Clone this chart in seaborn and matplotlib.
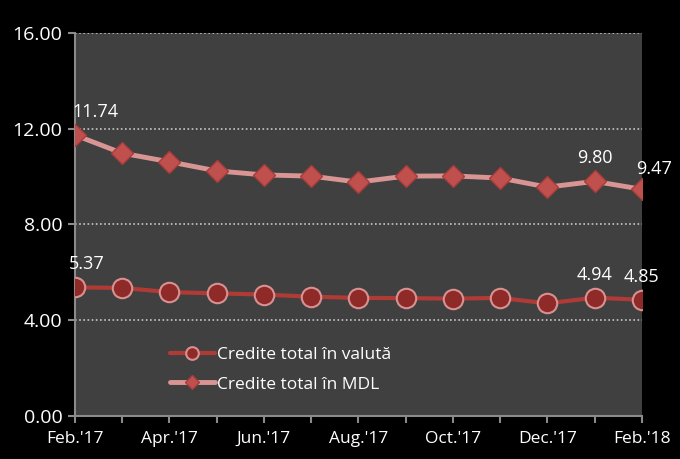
import seaborn as sns
import pandas as pd
from matplotlib import pyplot as plt

months = ["Feb.'17", "Mar.'17", "Apr.'17", "May.'17", "Jun.'17", "Jul.'17", "Aug.'17",
          "Sep.'17", "Oct.'17", "Nov.'17", "Dec.'17", "Jan.'18", "Feb.'18"]
valuta = [5.37, 5.35, 5.17, 5.12, 5.07, 4.98, 4.93, 4.92, 4.90, 4.93, 4.70, 4.94, 4.85]
mdl = [11.74, 10.98, 10.62, 10.24, 10.07, 10.02, 9.77, 10.02, 10.03, 9.94, 9.56, 9.80, 9.47]
tick_labels = ["Feb.'17", "Apr.'17", "Jun.'17", "Aug.'17", "Oct.'17", "Dec.'17", "Feb.'18"]

df = pd.DataFrame({"idx": range(len(months)), "month": months, "valuta": valuta, "mdl": mdl})

sns.set_theme(style="dark")
plt.rcParams['font.family'] = ['Open Sans', 'DejaVu Sans']

fig = plt.figure(figsize=(6.8, 4.59), dpi=100, facecolor="black")
ax = fig.add_axes([0.110, 0.094, 0.834, 0.834])
ax.set_facecolor("#404040")

sns.lineplot(data=df, x="idx", y="valuta", ax=ax, color="#b03a36", linewidth=3,
             marker="o", markersize=14, markerfacecolor="#8e2a28",
             markeredgecolor="#d99090", markeredgewidth=1.5,
             label="Credite total în valută", zorder=3)
sns.lineplot(data=df, x="idx", y="mdl", ax=ax, color="#d99594", linewidth=3.5,
             marker="D", markersize=11, markerfacecolor="#c0504d",
             markeredgecolor="#a83c3a", markeredgewidth=1,
             label="Credite total în MDL", zorder=3)

# data labels
txt = dict(color="white", fontsize=13)
ax.annotate(f"{mdl[0]:.2f}", (0, mdl[0]), xytext=(-2, 10), textcoords="offset points", ha="left", va="bottom", **txt)
ax.annotate(f"{mdl[11]:.2f}", (11, mdl[11]), xytext=(0, 10), textcoords="offset points", ha="center", va="bottom", **txt)
ax.annotate(f"{mdl[12]:.2f}", (12, mdl[12]), xytext=(-4, 8), textcoords="offset points", ha="left", va="bottom",
            annotation_clip=False, **txt)
ax.annotate(f"{valuta[0]:.2f}", (0, valuta[0]), xytext=(-4, 10), textcoords="offset points", ha="left", va="bottom", **txt)
ax.annotate(f"{valuta[11]:.2f}", (11, valuta[11]), xytext=(0, 10), textcoords="offset points", ha="center", va="bottom", **txt)
ax.annotate(f"{valuta[12]:.2f}", (12, valuta[12]), xytext=(0, 10), textcoords="offset points", ha="center", va="bottom",
            annotation_clip=False, **txt)

ax.set_xlim(0, len(months) - 1)
ax.set_ylim(0, 16)
ax.set_yticks([0, 4, 8, 12, 16])
ax.set_yticklabels([f"{v:.2f}" for v in [0, 4, 8, 12, 16]])
ax.set_xticks(range(len(months)))
ax.set_xticklabels([m if m in tick_labels else "" for m in months])
ax.set_xlabel("")
ax.set_ylabel("")

ax.grid(False)
for y in [4, 8, 12, 16]:
    ax.axhline(y, color="#c8c8c8", linestyle=(0, (1, 1.5)), linewidth=1.2, zorder=1)

for side in ["top", "right"]:
    ax.spines[side].set_visible(False)
for side in ["left", "bottom"]:
    ax.spines[side].set_color("#8a8a8a")
    ax.spines[side].set_linewidth(1.5)

ax.tick_params(axis="both", colors="#8a8a8a", labelcolor="white",
               direction="out", length=5, width=1.5, bottom=True, left=True)
ax.tick_params(axis="y", labelsize=14, pad=4)
ax.tick_params(axis="x", labelsize=12.5, pad=6)

leg = ax.legend(loc="lower left", bbox_to_anchor=(0.14, 0.02), frameon=False,
                fontsize=12.5, handlelength=2.6, labelspacing=0.75, handletextpad=0.1,
                markerscale=0.65)
for t in leg.get_texts():
    t.set_color("white")

plt.savefig("out.png", dpi=100, facecolor="black")
